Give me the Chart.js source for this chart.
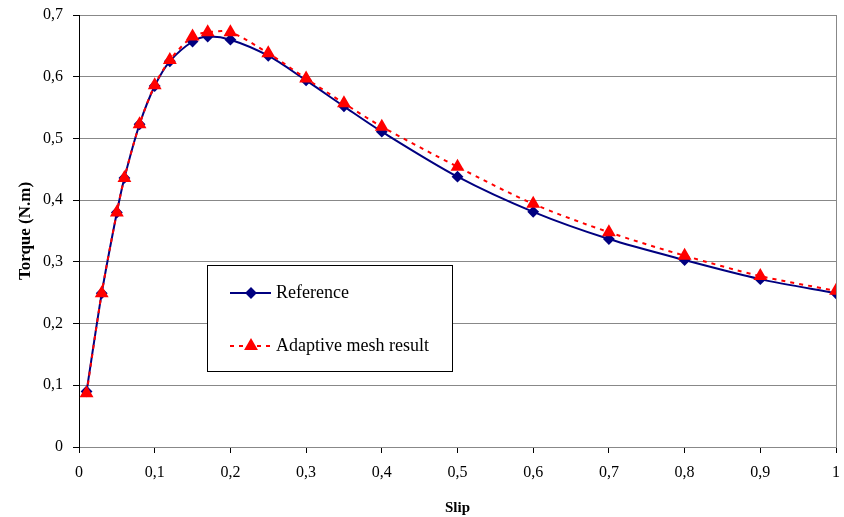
<!DOCTYPE html>
<html>
<head>
<meta charset="utf-8">
<script src="https://cdn.jsdelivr.net/npm/chart.js@4"></script>
<style>
  body { margin: 0; background: #fff; }
  #wrap { width: 844px; height: 517px; }
</style>
</head>
<body>
<div id="wrap"><canvas id="chart"></canvas></div>
<script>
// values
const slip = [0.01, 0.03, 0.05, 0.06, 0.08, 0.1, 0.12, 0.15, 0.17, 0.2, 0.25, 0.3, 0.35, 0.4, 0.5, 0.6, 0.7, 0.8, 0.9, 1.0];
const reference = [0.090, 0.249, 0.380, 0.436, 0.523, 0.585, 0.625, 0.657, 0.665, 0.660, 0.634, 0.594, 0.552, 0.511, 0.438, 0.381, 0.337, 0.303, 0.272, 0.249];
const adaptive = [0.087, 0.249, 0.380, 0.436, 0.523, 0.586, 0.627, 0.665, 0.672, 0.672, 0.638, 0.597, 0.557, 0.519, 0.454, 0.394, 0.348, 0.310, 0.277, 0.253];
const seriesNames = ['Reference', 'Adaptive mesh result'];

const font = 'Liberation Serif';
const comma = v => String(Math.round(v * 10) / 10).replace('.', ',');

// legend box drawn inside the plot, like the original
const boxLegend = {
  id: 'boxLegend',
  afterDraw(chart) {
    const ctx = chart.ctx;
    const x0 = 207, y0 = 265, w = 245, h = 106;
    ctx.save();
    ctx.fillStyle = '#fff';
    ctx.fillRect(x0, y0, w, h);
    ctx.strokeStyle = '#000';
    ctx.lineWidth = 1;
    ctx.strokeRect(x0 + 0.5, y0 + 0.5, w, h);

    const rows = [293, 346];
    const ds = chart.data.datasets;
    rows.forEach((ry, i) => {
      const d = ds[i];
      ctx.strokeStyle = d.borderColor;
      ctx.lineWidth = d.borderWidth;
      ctx.setLineDash(d.borderDash || []);
      ctx.beginPath();
      ctx.moveTo(230, ry);
      ctx.lineTo(271, ry);
      ctx.stroke();
      ctx.setLineDash([]);
      ctx.fillStyle = d.pointBackgroundColor;
      ctx.strokeStyle = d.pointBorderColor;
      Chart.helpers.drawPoint(ctx, {
        pointStyle: d.pointStyle, radius: d.pointRadius, borderWidth: 1, rotation: 0
      }, 251, ry);
      ctx.fillStyle = '#000';
      ctx.font = '18px "' + font + '"';
      ctx.textBaseline = 'middle';
      ctx.fillText(seriesNames[i], 276, ry);
    });
    ctx.restore();
  }
};

new Chart(document.getElementById('chart'), {
  type: 'line',
  data: {
    datasets: [
      {
        label: seriesNames[0],
        data: slip.map((s, i) => ({ x: s, y: reference[i] })),
        borderColor: '#000080',
        borderWidth: 2,
        pointStyle: 'rectRot',
        pointRadius: 4.5,
        pointBackgroundColor: '#000080',
        pointBorderColor: '#000080',
        tension: 0.3,
        order: 2
      },
      {
        label: seriesNames[1],
        data: slip.map((s, i) => ({ x: s, y: adaptive[i] })),
        borderColor: '#ff0000',
        borderWidth: 2,
        borderDash: [4, 5],
        pointStyle: 'triangle',
        pointRadius: 6,
        pointBackgroundColor: '#ff0000',
        pointBorderColor: '#ff0000',
        tension: 0.3,
        order: 1
      }
    ]
  },
  options: {
    responsive: true,
    maintainAspectRatio: false,
    animation: false,
    layout: { padding: 0 },
    plugins: {
      legend: { display: false },
      tooltip: { enabled: false }
    },
    scales: {
      x: {
        type: 'linear',
        min: 0,
        max: 1,
        ticks: {
          stepSize: 0.1,
          color: '#000',
          padding: 10,
          font: { family: font, size: 16 },
          callback: comma
        },
        grid: {
          color: c => (c.index === 10 ? '#888' : 'rgba(0,0,0,0)'),
          tickColor: '#000',
          tickLength: 6,
          drawOnChartArea: true
        },
        border: { color: '#888', width: 1 },
        title: {
          display: true,
          text: 'Slip',
          color: '#000',
          font: { family: font, size: 15, weight: 'bold' },
          padding: { top: 7, bottom: 0 }
        },
        afterFit: s => {
          s.height = 70;
          s.paddingLeft = 0;
          s.paddingRight = 7;
        }
      },
      y: {
        min: 0,
        max: 0.7,
        ticks: {
          stepSize: 0.1,
          color: '#000',
          padding: 10,
          font: { family: font, size: 16 },
          callback: comma
        },
        grid: {
          color: '#888',
          tickColor: '#000',
          tickLength: 6
        },
        border: { color: '#000', width: 1 },
        title: {
          display: true,
          text: 'Torque (N.m)',
          color: '#000',
          font: { family: font, size: 17, weight: 'bold' },
          padding: { top: 15, bottom: 6 }
        },
        afterFit: s => {
          s.width = 79;
          s.paddingTop = 15;
          s.paddingBottom = 0;
        }
      }
    }
  },
  plugins: [boxLegend]
});
</script>
</body>
</html>
